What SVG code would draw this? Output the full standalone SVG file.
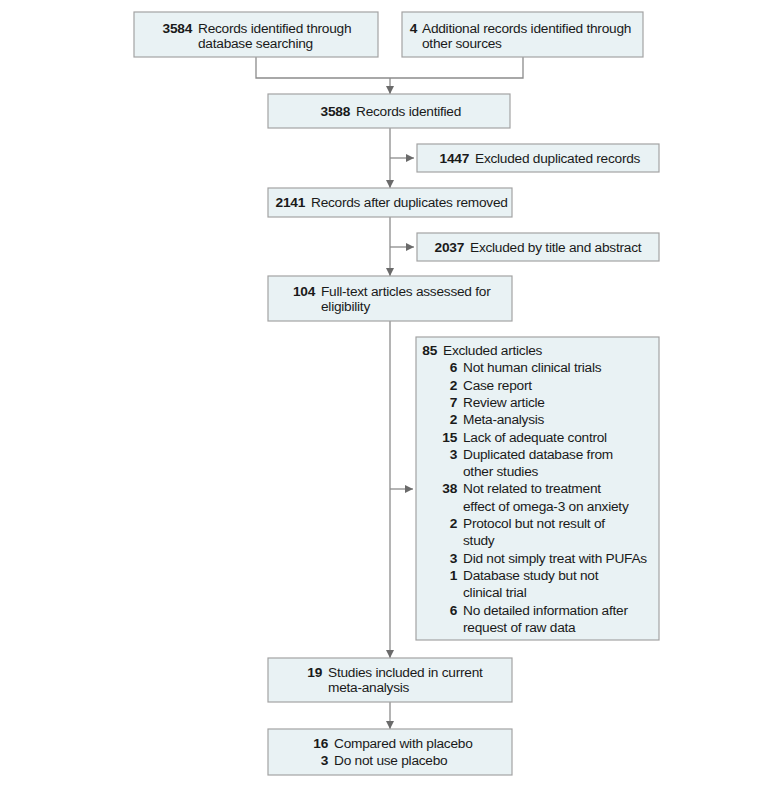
<svg xmlns="http://www.w3.org/2000/svg" width="780" height="789" viewBox="0 0 780 789">
<style>
.bx{fill:#e9f2f4;stroke:#a3a3a3;stroke-width:1.2}
.c{fill:none;stroke:#8c8c8c;stroke-width:1.3}
text{font-family:"Liberation Sans",Arial,sans-serif;font-size:13.7px;letter-spacing:-0.25px;fill:#1a1a1a}
.n{font-weight:bold;text-anchor:end}
</style>
<defs>
<marker id="ah" markerUnits="userSpaceOnUse" markerWidth="9" markerHeight="8" refX="8" refY="4" orient="auto">
<path d="M0,0 L8,4 L0,8 Z" fill="#6a6a6a"/>
</marker>
</defs>
<rect width="780" height="789" fill="#ffffff"/>
<g id="connectors">
<path class="c" d="M256,57 V78 H523 V57"/>
<path class="c" d="M390,78 V94" marker-end="url(#ah)"/>
<path class="c" d="M390,128 V188" marker-end="url(#ah)"/>
<path class="c" d="M390,158 H414" marker-end="url(#ah)"/>
<path class="c" d="M390,217 V276" marker-end="url(#ah)"/>
<path class="c" d="M390,247 H414" marker-end="url(#ah)"/>
<path class="c" d="M390,321 V658" marker-end="url(#ah)"/>
<path class="c" d="M390,489 H413" marker-end="url(#ah)"/>
<path class="c" d="M390,702 V729" marker-end="url(#ah)"/>
</g>
<g id="n1"><rect class="bx" x="134" y="12" width="244" height="45"/>
<text class="n" x="192" y="33">3584</text><text x="198" y="33">Records identified through</text><text x="198" y="48">database searching</text></g>
<g id="n2"><rect class="bx" x="402" y="12" width="241" height="45"/>
<text class="n" x="417" y="33">4</text><text x="422" y="33">Additional records identified through</text><text x="422" y="48">other sources</text></g>
<g id="n3"><rect class="bx" x="268" y="94" width="242" height="34"/>
<text class="n" x="350" y="116">3588</text><text x="356" y="116">Records identified</text></g>
<g id="n4"><rect class="bx" x="417" y="144" width="242" height="28"/>
<text class="n" x="469" y="163">1447</text><text x="475" y="163">Excluded duplicated records</text></g>
<g id="n5"><rect class="bx" x="268" y="188" width="244" height="29"/>
<text class="n" x="305" y="207">2141</text><text x="311" y="207">Records after duplicates removed</text></g>
<g id="n6"><rect class="bx" x="417" y="233" width="242" height="28"/>
<text class="n" x="464" y="252">2037</text><text x="470" y="252">Excluded by title and abstract</text></g>
<g id="n7"><rect class="bx" x="268" y="276" width="244" height="45"/>
<text class="n" x="315" y="296">104</text><text x="321" y="296">Full-text articles assessed for</text><text x="321" y="311">eligibility</text></g>
<g id="n8"><rect class="bx" x="416" y="337" width="243" height="303"/>
<text class="n" x="437" y="355">85</text><text x="443" y="355">Excluded articles</text>
<text class="n" x="457" y="372.3">6</text><text x="463" y="372.3">Not human clinical trials</text>
<text class="n" x="457" y="389.6">2</text><text x="463" y="389.6">Case report</text>
<text class="n" x="457" y="406.9">7</text><text x="463" y="406.9">Review article</text>
<text class="n" x="457" y="424.2">2</text><text x="463" y="424.2">Meta-analysis</text>
<text class="n" x="457" y="441.5">15</text><text x="463" y="441.5">Lack of adequate control</text>
<text class="n" x="457" y="458.8">3</text><text x="463" y="458.8">Duplicated database from</text>
<text x="463" y="476.1">other studies</text>
<text class="n" x="457" y="493.4">38</text><text x="463" y="493.4">Not related to treatment</text>
<text x="463" y="510.7">effect of omega-3 on anxiety</text>
<text class="n" x="457" y="528">2</text><text x="463" y="528">Protocol but not result of</text>
<text x="463" y="545.3">study</text>
<text class="n" x="457" y="562.6">3</text><text x="463" y="562.6">Did not simply treat with PUFAs</text>
<text class="n" x="457" y="579.9">1</text><text x="463" y="579.9">Database study but not</text>
<text x="463" y="597.2">clinical trial</text>
<text class="n" x="457" y="614.5">6</text><text x="463" y="614.5">No detailed information after</text>
<text x="463" y="631.8">request of raw data</text></g>
<g id="n9"><rect class="bx" x="268" y="658" width="244" height="44"/>
<text class="n" x="322" y="677">19</text><text x="328" y="677">Studies included in current</text><text x="328" y="692">meta-analysis</text></g>
<g id="n10"><rect class="bx" x="268" y="729" width="244" height="46"/>
<text class="n" x="328" y="748">16</text><text x="334" y="748">Compared with placebo</text>
<text class="n" x="328" y="765">3</text><text x="334" y="765">Do not use placebo</text></g>
</svg>
